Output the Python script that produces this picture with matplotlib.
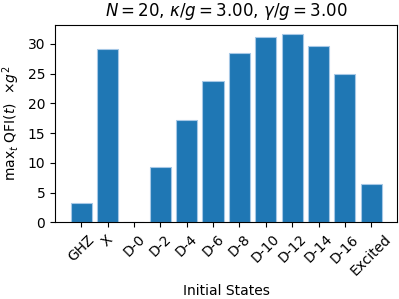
import matplotlib
matplotlib.use("Agg")
import matplotlib.pyplot as plt
import numpy as np

states = ["GHZ", "X", "D-0", "D-2", "D-4", "D-6", "D-8", "D-10", "D-12", "D-14", "D-16", "Excited"]
max_qfi = [3.2, 29.2, 0.0, 9.3, 17.2, 23.7, 28.4, 31.1, 31.6, 29.7, 25.0, 6.4]

fig, ax = plt.subplots(figsize=(3.99, 2.99), dpi=100)
x = np.arange(len(states))
ax.bar(x, max_qfi, color="#1f77b4", edgecolor="#a6c8e6", linewidth=0.8)
ax.set_xticks(x)
ax.set_xticklabels(states, rotation=45)
ax.set_xlabel("Initial States")
ax.set_ylabel(r"max$_t$ QFI($t$)  $\times g^2$")
ax.set_title(r"$N = 20$, $\kappa/g = 3.00$, $\gamma/g = 3.00$")
ax.set_yticks([0, 5, 10, 15, 20, 25, 30])

fig.subplots_adjust(left=0.138, right=0.996, top=0.917, bottom=0.256)
fig.savefig("out.png", dpi=100)
